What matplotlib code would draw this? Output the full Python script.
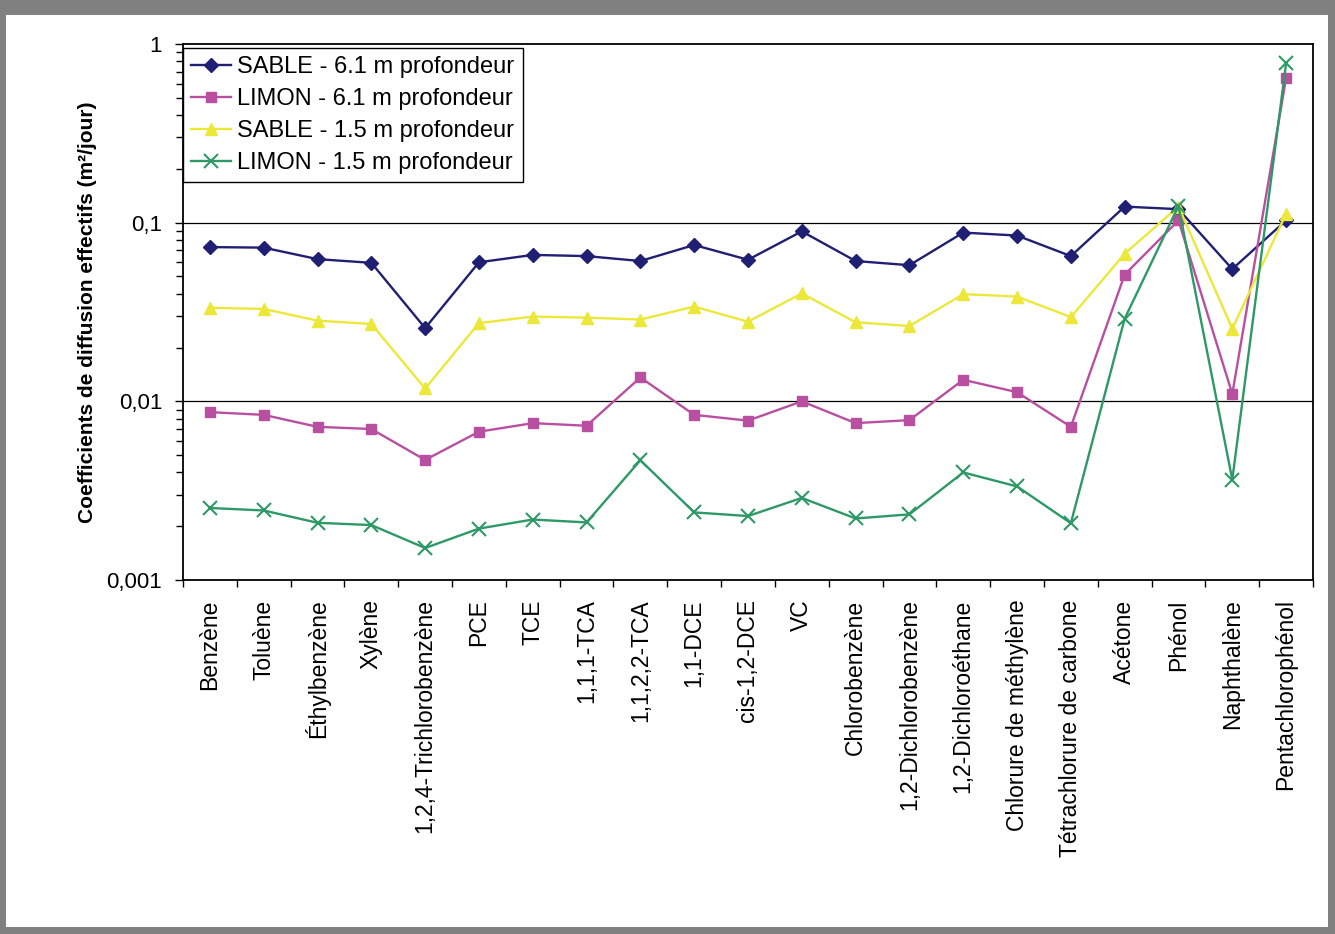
import matplotlib
matplotlib.use("Agg")
import matplotlib.pyplot as plt
from matplotlib.patches import Rectangle
from matplotlib.ticker import FixedLocator, NullFormatter, FuncFormatter
import numpy as np

plt.rcParams['font.family'] = ['Liberation Sans', 'DejaVu Sans']

categories = [
    "Benzène", "Toluène", "Éthylbenzène", "Xylène", "1,2,4-Trichlorobenzène",
    "PCE", "TCE", "1,1,1-TCA", "1,1,2,2-TCA", "1,1-DCE", "cis-1,2-DCE", "VC",
    "Chlorobenzène", "1,2-Dichlorobenzène", "1,2-Dichloroéthane",
    "Chlorure de méthylène", "Tétrachlorure de carbone", "Acétone", "Phénol",
    "Naphthalène", "Pentachlorophénol",
]

sable_61 = [0.073, 0.0725, 0.0625, 0.0596, 0.0257, 0.060, 0.066, 0.065, 0.061,
            0.075, 0.062, 0.0894, 0.061, 0.0578, 0.088, 0.0847, 0.065, 0.123,
            0.119, 0.055, 0.103]
limon_61 = [0.0087, 0.0084, 0.0072, 0.0070, 0.0047, 0.00676, 0.00755, 0.0073,
            0.0136, 0.0084, 0.0078, 0.0100, 0.00755, 0.00785, 0.0132, 0.01125,
            0.0072, 0.0512, 0.103, 0.011, 0.645]
sable_15 = [0.0334, 0.0329, 0.0283, 0.0271, 0.0118, 0.0274, 0.0298, 0.0294,
            0.0287, 0.0339, 0.0279, 0.0402, 0.0277, 0.0264, 0.0398, 0.0386,
            0.0296, 0.067, 0.123, 0.0255, 0.112]
limon_15 = [0.00253, 0.00245, 0.00209, 0.00203, 0.00151, 0.00194, 0.00218,
            0.0021, 0.00468, 0.00239, 0.00228, 0.00288, 0.00221, 0.00233,
            0.0040, 0.00334, 0.00208, 0.029, 0.124, 0.00364, 0.78]

series = [
    ("SABLE - 6.1 m profondeur", sable_61, "#1f1f73", "D", 7, dict()),
    ("LIMON - 6.1 m profondeur", limon_61, "#b84fa0", "s", 7.5, dict()),
    ("SABLE - 1.5 m profondeur", sable_15, "#ece83a", "^", 8.5, dict()),
    ("LIMON - 1.5 m profondeur", limon_15, "#2e9966", "x", 9.5, dict(markeredgewidth=1.5)),
]

W, H = 1335, 934
fig = plt.figure(figsize=(W / 100, H / 100), dpi=100)

# grey frame around the white chart area
fig.patches.append(Rectangle((0, 0), 1, 1, transform=fig.transFigure,
                             facecolor="#808080", edgecolor="none", zorder=-10))
fig.patches.append(Rectangle((6 / W, 7 / H), (1328 - 6) / W, (927 - 15) / H,
                             transform=fig.transFigure, facecolor="white",
                             edgecolor="none", zorder=-9))

left, right, top, bottom = 183, 1313, 44, 580
ax = fig.add_axes([left / W, 1 - bottom / H, (right - left) / W, (bottom - top) / H])
ax.set_facecolor("white")

x = np.arange(len(categories))
for label, vals, color, marker, ms, extra in series:
    ax.plot(x, vals, color=color, marker=marker, markersize=ms, linewidth=1.7,
            markerfacecolor=color, markeredgecolor=color, label=label, **extra)

ax.set_yscale("log")
ax.set_ylim(0.001, 1)
ax.set_xlim(-0.5, len(categories) - 0.5)

ax.yaxis.set_major_locator(FixedLocator([0.001, 0.01, 0.1, 1]))
ax.yaxis.set_major_formatter(FuncFormatter(
    lambda v, p: {0.001: "0,001", 0.01: "0,01", 0.1: "0,1", 1: "1"}.get(round(v, 3), "")))
minor = [m * 10.0 ** e for e in (-3, -2, -1) for m in range(2, 10)]
ax.yaxis.set_minor_locator(FixedLocator(minor))
ax.yaxis.set_minor_formatter(NullFormatter())
ax.tick_params(axis="y", which="major", direction="out", length=6, width=1,
               labelsize=16, pad=9, color="black")
ax.tick_params(axis="y", which="minor", direction="out", length=5, width=1, color="black")

ax.set_xticks(x)
ax.set_xticklabels(categories, rotation=90, fontsize=16.5, va="top", ha="center")
ax.xaxis.set_minor_locator(FixedLocator(np.arange(-0.5, len(categories), 1.0)))
ax.tick_params(axis="x", which="major", length=0, pad=14)
ax.tick_params(axis="x", which="minor", direction="out", length=5, width=1, color="black")

for yv in (0.01, 0.1):
    ax.axhline(yv, color="black", linewidth=0.9, zorder=0.5)

for s in ax.spines.values():
    s.set_linewidth(1.3)
    s.set_color("black")

ax.set_ylabel("Coefficients de diffusion effectifs (m²/jour)", fontsize=15,
              fontweight="bold", labelpad=7)

leg = ax.legend(loc="upper left", bbox_to_anchor=(0.0, 1 - 4 / (bottom - top)),
                borderaxespad=0, fontsize=17, frameon=True, fancybox=False,
                edgecolor="black", framealpha=1, handlelength=1.7,
                handletextpad=0.25, labelspacing=0.42, borderpad=0.35)
leg.get_frame().set_linewidth(1.0)

fig.savefig("out.png", dpi=100, facecolor="#808080")
